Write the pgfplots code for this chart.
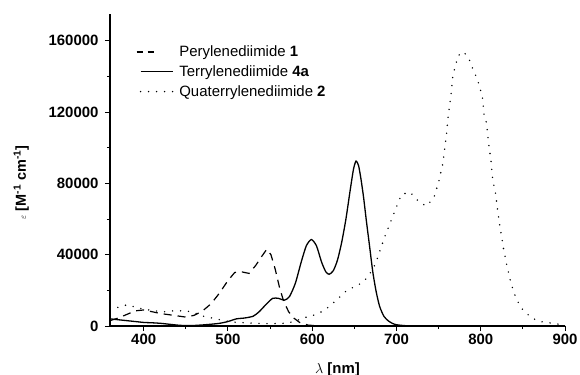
\documentclass[border=0pt]{standalone}
\usepackage{fontspec}
\setmainfont{Liberation Sans}
\usepackage{pgfplots}
\pgfplotsset{compat=1.18}
\pgfplotsset{dashlegend/.style={legend image code/.code={\draw[##1, overlay, dash pattern=on 6bp off 5bp] (-4bp,0bp) -- (13bp,0bp); \path (0bp,0bp) (36bp,0bp);}}}
\begin{document}
\begin{tikzpicture}
\path[use as bounding box] (-110bp,-49bp) rectangle (470bp,326bp);
\begin{axis}[
  scale only axis, width=455bp, height=312bp,
  xmin=360, xmax=900, ymin=0, ymax=175000,
  axis x line*=bottom, axis y line*=left,
  axis line style={line width=1.2bp},
  xtick={400,500,600,700,800,900},
  ytick={0,40000,80000,120000,160000},
  minor x tick num=1, minor y tick num=1,
  tick align=outside,
  major tick length=5bp, minor tick length=3bp,
  every tick/.style={line width=1bp, black},
  scaled y ticks=false,
  /pgf/number format/assume math mode=true,
  yticklabel style={/pgf/number format/fixed, /pgf/number format/1000 sep={}, xshift=-3bp},
  xticklabel style={/pgf/number format/1000 sep={}},
  ticklabel style={font=\fontsize{15}{17}\selectfont\bfseries},
  xlabel={$\lambda$ \textbf{[nm]}},
  xlabel style={font=\fontsize{15}{17}\selectfont, at={(axis description cs:0.5,-0.105)}, anchor=north},
  ylabel={{\small$\varepsilon$} \textbf{[M\textsuperscript{-1} cm\textsuperscript{-1}]}},
  ylabel style={font=\fontsize{14.5}{16}\selectfont, at={(axis description cs:-0.195,0.46)}, anchor=center},
  legend style={draw=none, fill=none, at={(axis description cs:0.065,0.905)}, anchor=north west,
    font=\fontsize{15}{17}\selectfont, row sep=3.5bp, inner sep=0pt},
  legend cell align=left,
  legend image code/.code={\draw[#1] (0bp,0bp) -- (32bp,0bp); \path (36bp,0bp);},
]
\addplot[black, line width=1.2bp, dash pattern=on 8bp off 6bp, dashlegend] coordinates {
(360,3000) (370,4500) (380,6500) (390,8500) (400,9000) (410,8000) (420,7000)
(435,6000) (450,5000) (460,6000) (470,8500) (480,12500) (490,18500) (500,25500)
(508,30000) (515,30500) (525,29500) (533,34000) (540,39000) (546,43000) (551,40000)
(556,32000) (561,22000) (566,14000) (572,8000) (578,4500) (585,2000) (595,500)
(610,0) (700,0)
};
\addlegendentry{Perylenediimide \textbf{1}}
\addplot[black, line width=1.3bp, smooth, tension=0.4] coordinates {
(360,4000) (370,3500) (380,3000) (390,2500) (400,2000) (410,1800) (420,1500)
(430,1000) (440,500) (450,200) (460,300) (470,600) (480,1000) (490,1500)
(500,2500) (510,4000) (520,4500) (530,5500) (537,8000) (545,12000) (553,15500)
(560,15500) (567,14500) (573,16500) (580,24000) (587,36000) (593,45000) (599,48500)
(605,45000) (611,36000) (616,30500) (620,29000) (625,31000) (630,37000) (635,47000)
(640,60000) (645,76000) (649,88000) (652,92500) (655,90000) (658,82000) (661,72000)
(664,60000) (668,45000) (672,30000) (676,19000) (680,11000) (685,5500) (690,3000)
(695,1500) (700,700) (710,200) (720,0) (900,0)
};
\addlegendentry{Terrylenediimide \textbf{4a}}
\addplot[black, line width=1.6bp, line cap=round, dash pattern=on 0bp off 8bp] coordinates {
(360,9500) (370,10500) (381,12000) (390,10500) (400,9500) (412,8500) (425,8000)
(435,8500) (450,8500) (460,7500) (467,6000) (475,5000) (483,4300) (495,3000)
(506,2200) (520,1800) (535,1500) (550,1300) (565,1500) (580,2500) (587,4300)
(599,5600) (609,7400) (620,10800) (631,15500) (641,20000) (652,22400) (661,24800)
(668,29000) (675,34700) (686,50000) (696,62000) (706,73800) (716,75100) (726,70000)
(735,67300) (744,71400) (750,80700) (755,91000) (759,105900) (761,116200) (765,131000)
(767,141000) (770,146000) (773,151600) (780,153800) (787,148800) (791,143600)
(796,138500) (799,133500) (802,128300) (804,118400) (807,113700) (809,103500)
(812,93400) (814,83000) (816,78000) (818,73300) (819,68600) (822,58300) (827,43500)
(831,34000) (835,25700) (839,19200) (844,13600) (850,9000) (861,4300) (872,2400)
(891,1100) (900,800)
};
\addlegendentry{Quaterrylenediimide \textbf{2}}
\end{axis}
\end{tikzpicture}
\end{document}
